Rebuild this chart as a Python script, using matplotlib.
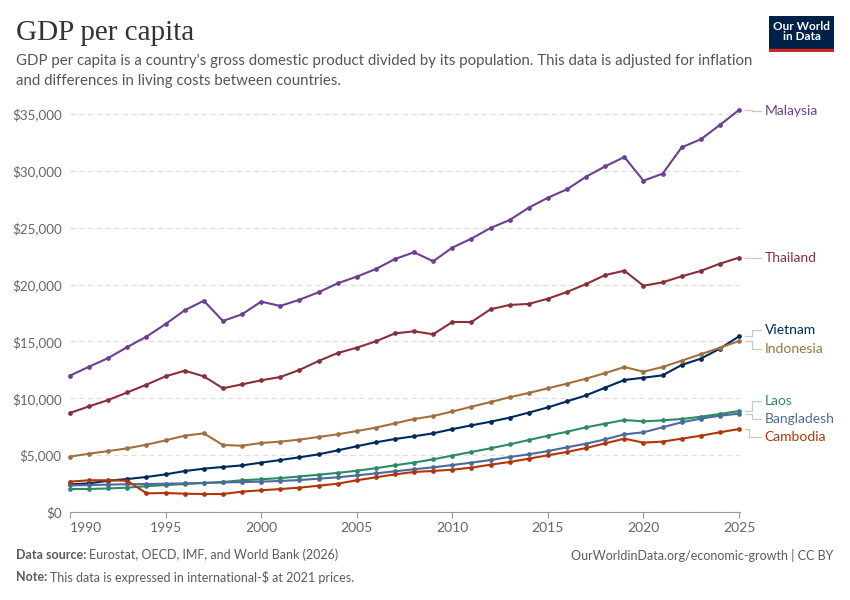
import matplotlib.pyplot as plt
import numpy as np

# GDP per capita, international-$ at 2021 prices
years = np.arange(1990, 2026)

malaysia = [12000, 12780, 13540, 14510, 15420, 16530, 17740, 18580, 16800, 17390,
            18500, 18120, 18670, 19320, 20110, 20700, 21370, 22250, 22840, 22050,
            23250, 24040, 24980, 25680, 26760, 27640, 28380, 29490, 30400, 31220,
            29140, 29750, 32070, 32780, 34040, 35360]
thailand = [8710, 9290, 9850, 10520, 11200, 11930, 12430, 11930, 10880, 11230,
            11580, 11870, 12490, 13280, 13980, 14450, 15010, 15710, 15890, 15630,
            16710, 16710, 17830, 18210, 18300, 18760, 19350, 20050, 20840, 21220,
            19900, 20200, 20730, 21200, 21840, 22370]
vietnam = [2430, 2520, 2750, 2900, 3080, 3310, 3600, 3810, 3960, 4100,
           4340, 4570, 4810, 5070, 5420, 5780, 6130, 6420, 6660, 6920,
           7290, 7620, 7940, 8300, 8740, 9200, 9730, 10260, 10940, 11610,
           11810, 12020, 12930, 13490, 14370, 15450]
indonesia = [4870, 5130, 5360, 5600, 5920, 6300, 6710, 6920, 5890, 5830,
             6070, 6190, 6360, 6600, 6830, 7120, 7420, 7800, 8180, 8440,
             8840, 9260, 9670, 10090, 10470, 10880, 11290, 11730, 12220, 12750,
             12340, 12750, 13310, 13870, 14450, 15040]
laos = [2020, 2030, 2070, 2140, 2270, 2370, 2460, 2550, 2640, 2790,
        2880, 2980, 3120, 3280, 3440, 3630, 3850, 4110, 4350, 4630,
        4960, 5280, 5600, 5950, 6330, 6710, 7060, 7450, 7770, 8090,
        7970, 8060, 8180, 8380, 8620, 8880]
bangladesh = [2340, 2370, 2410, 2440, 2460, 2490, 2520, 2560, 2600, 2630,
              2670, 2730, 2810, 2930, 3050, 3220, 3400, 3580, 3760, 3930,
              4130, 4340, 4570, 4840, 5070, 5360, 5690, 6010, 6390, 6830,
              7010, 7450, 7890, 8210, 8470, 8650]
cambodia = [2670, 2790, 2790, 2750, 1640, 1670, 1610, 1580, 1580, 1790,
            1910, 2020, 2140, 2310, 2490, 2790, 3050, 3310, 3520, 3610,
            3720, 3900, 4160, 4400, 4690, 4990, 5280, 5630, 6040, 6450,
            6100, 6190, 6450, 6710, 7010, 7300]

countries = ["Malaysia", "Thailand", "Vietnam", "Indonesia", "Laos", "Bangladesh", "Cambodia"]
series = [malaysia, thailand, vietnam, indonesia, laos, bangladesh, cambodia]
colors = ["#6D3E91", "#883039", "#00295B", "#A2703D", "#2C8A66", "#4C6A9C", "#B13507"]
# y position of each end label (in data units) and the x where its connector bends
label_y = [35270, 22340, 16010, 14340, 9760, 8180, 6600]
bend_x = [2025.7, 2025.7, 2025.7, 2025.7, 2025.7, 2025.7, 2025.5]

plt.rcParams['font.family'] = ['Lato', 'DejaVu Sans']

fig = plt.figure(figsize=(8.5, 6), dpi=100)
ax = fig.add_axes([70 / 850, 88 / 600, 670 / 850, 404 / 600])

for name, vals, c in zip(countries, series, colors):
    ax.plot(years, vals, color=c, lw=1.5, marker='o', ms=2.4, zorder=3, clip_on=False)

ax.set_xlim(1990, 2025.05)
ax.set_ylim(0, 35530)
ax.set_yticks(np.arange(0, 35001, 5000))
ax.set_yticklabels(["$0"] + ["${:,}".format(v) for v in range(5000, 35001, 5000)])
ax.set_xticks(np.arange(1990, 2026, 5))
ax.set_xticklabels([str(y) for y in range(1990, 2026, 5)])
ax.get_xticklabels()[0].set_horizontalalignment('left')

ax.grid(axis='y', color='#dddddd', ls=(0, (4, 3)), lw=0.9)
ax.set_axisbelow(True)
for s in ['top', 'right', 'left']:
    ax.spines[s].set_visible(False)
ax.spines['bottom'].set_color('#999999')
ax.tick_params(axis='y', length=0, labelsize=9.6, labelcolor='#666666', pad=6)
ax.tick_params(axis='x', length=4, color='#999999', labelsize=10, labelcolor='#666666', pad=3)

# end labels with connectors
for name, vals, c, ly, bx in zip(countries, series, colors, label_y, bend_x):
    last = vals[-1]
    ax.plot([2025.3, bx, bx, 2026.15], [last, last, ly, ly], color='#c8c8c8', lw=0.9, clip_on=False)
    ax.text(2026.35, ly, name, color=c, fontsize=10, va='center', ha='left')

# header
fig.text(16 / 850, 1 - 33 / 600, "GDP per capita", family='Liberation Serif', fontsize=21,
         color='#333333', va='center')
fig.text(16 / 850, 1 - 61 / 600,
         "GDP per capita is a country's gross domestic product divided by its population. This data is adjusted for inflation",
         fontsize=10.8, color='#555555', va='center')
fig.text(16 / 850, 1 - 81 / 600, "and differences in living costs between countries.",
         fontsize=10.8, color='#555555', va='center')

# logo
logo = fig.add_axes([769 / 850, 1 - 52 / 600, 65 / 850, 36 / 600])
logo.set_xlim(0, 1)
logo.set_ylim(0, 1)
logo.axis('off')
logo.add_patch(plt.Rectangle((0, 0.09), 1, 0.91, color='#002147'))
logo.add_patch(plt.Rectangle((0, 0), 1, 0.09, color='#ce261e'))
logo.text(0.5, 0.57, "Our World\nin Data", color='white', fontsize=8.5, ha='center', va='center',
          linespacing=0.95, fontweight='bold')

# footer: bold lead-in followed by regular text
renderer = fig.canvas.get_renderer()


def footer_line(y, bold, rest):
    t = fig.text(16 / 850, 1 - y / 600, bold, fontsize=9, color='#5b5b5b', va='center',
                 fontweight='bold')
    w = t.get_window_extent(renderer).width
    fig.text((16 + w + 3) / 850, 1 - y / 600, rest, fontsize=9, color='#5b5b5b', va='center')


footer_line(555, "Data source:", "Eurostat, OECD, IMF, and World Bank (2026)")
footer_line(577, "Note:", "This data is expressed in international-$ at 2021 prices.")
fig.text(833 / 850, 1 - 555 / 600, "OurWorldinData.org/economic-growth | CC BY",
         fontsize=9, color='#5b5b5b', va='center', ha='right')

fig.savefig("out.png", dpi=100)
